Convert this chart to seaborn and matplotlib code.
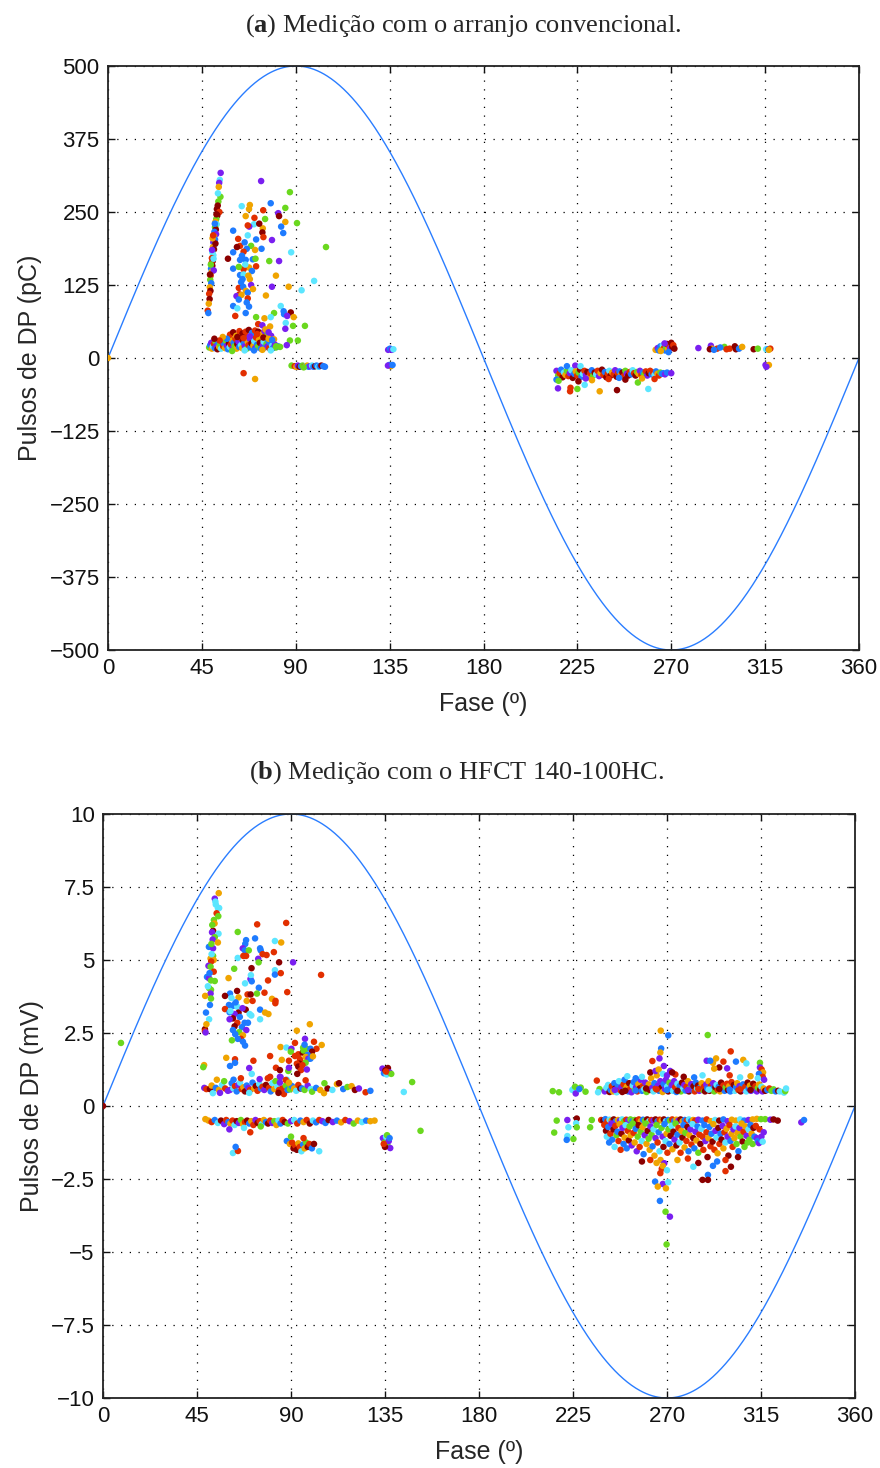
import numpy as np
import pandas as pd
import matplotlib
matplotlib.use('Agg')
import matplotlib.pyplot as plt
import seaborn as sns

# ---------------- colour codes: 0 roxo,1 azul,2 ciano,3 verde,4 laranja,5 vermelho,6 bordo
NOMES = ['roxo', 'azul', 'ciano', 'verde', 'laranja', 'vermelho', 'bordo']
CORES = ['#7a1ff0', '#1e7bff', '#5ce6ff', '#6ad81e', '#f0a400', '#e22f00', '#8b0000']

x_ticks = [0, 45, 90, 135, 180, 225, 270, 315, 360]
x_labels = ['0', '45', '90', '135', '180', '225', '270', '315', '360']
y_ticks_a = [-500, -375, -250, -125, 0, 125, 250, 375, 500]
y_labels_a = ['−500', '−375', '−250', '−125', '0', '125', '250', '375', '500']
y_ticks_b = [-10, -7.5, -5, -2.5, 0, 2.5, 5, 7.5, 10]
y_labels_b = ['−10', '−7.5', '−5', '−2.5', '0', '2.5', '5', '7.5', '10']

amp_a = 500.0   # pC, reference wave amplitude
amp_b = 10.0    # mV

# ---------------- panel (a): (fase, pC, cor)
a_origem = [(0.0, 0, 4)]
a_faixa = [
    (54.0,317,0),(53.6,305,2),(53.3,300,0),(53.1,293,4),(53.9,276,3),(52.9,268,3),(52.6,261,6),(52.2,255,6),
    (53.4,250,5),(52.4,244,6),(51.9,238,3),(51.5,233,4),(52.1,229,2),(51.3,224,3),(51.7,220,6),(51.0,216,1),
    (51.8,212,0),(50.8,208,4),(51.3,203,1),(50.5,198,0),(51.0,194,1),(50.3,190,4),(50.8,186,6),(50.0,181,2),
    (50.5,176,2),(49.8,171,5),(50.2,166,6),(49.6,162,5),(50.0,158,6),(49.4,153,1),(49.8,148,4),(49.2,141,5),
    (49.0,134,3),(49.5,128,1),(48.8,121,4),(49.1,115,6),(48.5,110,5),(48.7,101,6),(48.3,93,4),(47.8,81,5),
    (48.1,77,1),(50.7,150,0),(51.5,196,6),(52.7,282,2),(50.1,205,4),(52.0,246,6),(49.9,185,0),(51.2,230,1),
    (50.4,210,5),(49.3,160,3),(48.9,143,6),(50.6,170,2)]
a_central = [
    (64.1,260,2),(68.0,262,4),(67.6,255,4),(74.4,253,5),(78.0,265,1),(81.6,248,0),(82.0,243,6),(85.0,257,3),
    (90.6,231,3),(75.3,238,3),(66.0,243,4),(85.0,233,4),(70.0,229,2),(60.0,218,1),(67.7,225,0),(74.2,222,4),
    (74.0,215,6),(67.0,227,5),(67.0,210,2),(74.5,207,5),(71.0,203,1),(78.6,202,0),(84.0,214,1),(83.0,225,1),
    (62.4,204,5),(68.6,192,3),(66.5,187,1),(73.6,187,1),(63.3,192,5),(60.0,181,1),(70.5,185,4),(87.8,181,2),
    (104.5,190,3),(65.0,182,5),(57.5,170,6),(63.3,168,1),(66.0,168,1),(69.4,169,1),(67.6,155,4),(77.3,166,3),
    (82.0,166,0),(70.7,170,3),(71.0,157,5),(65.0,152,5),(60.0,153,1),(63.3,142,1),(65.0,143,2),(62.7,156,3),
    (69.0,149,1),(67.3,141,4),(80.5,141,4),(98.8,132,2),(68.0,135,4),(68.6,125,0),(62.7,120,5),(64.8,122,1),
    (66.1,115,4),(78.6,122,0),(86.6,122,4),(92.8,116,2),(63.0,109,5),(67.0,112,1),(61.6,106,0),(75.7,107,4),
    (64.0,108,4),(67.0,102,5),(60.0,89,1),(62.7,100,1),(67.6,88,1),(82.8,89,2),(84.2,80,1),(84.4,75,1),
    (87.6,78,6),(85.9,72,0),(89.0,70,4),(61.0,72,5),(66.0,77,1),(79.6,77,3),(71.0,70,3),(75.0,68,4),
    (78.0,70,2),(85.2,60,2),(88.7,55,3),(94.4,55,3),(85.0,50,0),(72.0,58,5),(74.0,56,0),(77.7,54,4),
    (75.5,49,4),(77.0,44,0),(78.7,31,1),(87.2,30,3),(91.0,30,3),(85.7,22,0),(80.6,20,3),(64.5,135,1),
    (65.8,160,2),(63.8,130,1),(66.5,95,1),(65.5,198,1),(70.2,240,5),(72.5,230,6),(61.8,190,6),(64.2,175,1),
    (69.5,118,4),(62.0,85,2),(73.4,303,0),(87.2,284,3)]
a_banda = [
    (48.5,18,3),(49.0,22,1),(49.5,26,0),(49.8,16,4),(50.3,20,2),(50.8,24,5),(51.2,17,1),(51.6,28,3),
    (52.0,21,0),(52.5,15,6),(52.9,25,1),(53.3,19,4),(53.8,23,3),(54.2,16,2),(54.8,27,0),(55.2,20,5),
    (55.7,24,1),(56.1,17,4),(56.6,29,3),(57.0,21,0),(57.5,15,1),(58.0,25,6),(58.4,19,2),(58.9,23,5),
    (59.3,31,4),(59.8,17,0),(60.2,26,1),(60.7,20,3),(61.1,33,5),(61.6,16,4),(62.0,24,6),(62.5,28,0),
    (62.9,19,1),(63.4,35,5),(63.8,22,2),(64.3,17,4),(64.7,30,6),(65.2,25,1),(65.6,20,0),(66.1,38,5),
    (66.5,16,3),(67.0,27,4),(67.4,22,5),(67.9,33,0),(68.3,18,1),(68.8,25,6),(69.2,40,5),(69.7,21,4),
    (70.1,29,2),(70.6,17,0),(71.0,35,5),(71.5,23,1),(71.9,19,3),(72.4,31,4),(72.8,26,6),(73.3,16,1),
    (73.7,42,5),(74.2,22,0),(74.6,28,2),(75.1,18,1),(75.5,36,4),(76.0,24,3),(76.4,20,0),(76.9,30,1),
    (77.3,17,5),(77.8,26,1),(78.2,38,0),(78.7,21,2),(79.1,17,1),(79.6,32,4),(80.0,23,0),(80.5,18,3),
    (81.5,20,1),(82.5,19,3),(58.5,40,5),(60.0,44,6),(61.5,38,4),(63.0,46,5),(64.5,42,6),(66.0,45,5),
    (67.5,48,6),(69.0,43,1),(70.5,47,5),(72.0,45,6),(73.5,40,4),(75.0,46,0),(76.5,44,3),(62.0,36,6),
    (65.0,34,5),(68.0,37,0),(71.5,41,5),(74.5,35,6),(77.0,33,4),(57.0,33,1),(55.0,36,4),(53.5,30,5),
    (51.0,33,6),(59.5,12,3),(65.5,13,2),(70.0,13,1),(74.0,14,4),(78.0,13,2)]
a_menos15 = [
    (88.0,-13,3),(89.5,-14,5),(90.3,-15,4),(91.0,-13,0),(91.8,-15,6),(92.5,-14,1),(93.3,-13,3),(94.0,-15,5),
    (94.8,-14,2),(95.5,-13,4),(96.2,-15,1),(97.0,-14,0),(97.8,-13,2),(98.5,-15,1),(99.3,-14,6),(100.0,-13,1),
    (100.8,-15,2),(101.5,-14,1),(102.3,-13,6),(103.2,-14,1),(104.0,-15,1),(93.8,-16,3),(65.0,-26,5),(70.5,-36,4)]
a_135 = [(134.3,14,0),(135.2,16,1),(136.0,14,0),(136.8,15,2),(134.8,-12,1),(135.6,-14,4),(134.2,-13,0),(136.4,-12,1)]
a_negativo = [
    (215.0,-22,0),(215.8,-30,3),(216.5,-26,5),(217.2,-20,1),(217.9,-33,6),(218.6,-25,2),(219.3,-29,4),(220.0,-22,3),
    (220.0,-14,1),(220.7,-31,5),(221.4,-26,0),(222.1,-21,2),(222.8,-34,6),(223.5,-27,1),(224.0,-13,0),(224.2,-23,4),
    (224.9,-30,5),(225.6,-25,3),(226.3,-20,6),(226.5,-14,2),(227.0,-32,1),(227.7,-27,2),(228.4,-22,5),(229.1,-29,0),
    (229.8,-24,6),(230.5,-33,4),(231.2,-26,5),(231.9,-21,1),(232.6,-30,3),(233.3,-25,6),(234.0,-28,2),(234.7,-22,5),
    (235.4,-31,0),(236.1,-26,4),(236.8,-20,6),(237.5,-29,5),(238.2,-24,1),(238.9,-33,6),(239.6,-27,5),(240.3,-22,2),
    (241.0,-30,6),(241.7,-25,4),(242.4,-28,5),(243.1,-21,0),(243.8,-32,6),(244.5,-26,5),(245.2,-23,1),(245.9,-29,4),
    (246.6,-25,6),(247.3,-31,5),(248.0,-22,3),(248.7,-27,0),(249.4,-30,6),(250.1,-24,5),(250.8,-28,1),(251.5,-21,2),
    (252.2,-26,5),(252.9,-30,6),(253.6,-24,3),(254.3,-27,4),(255.0,-22,0),(255.7,-29,5),(256.4,-25,1),(257.1,-28,3),
    (257.8,-23,5),(258.5,-30,0),(259.2,-26,6),(259.9,-22,5),(260.6,-28,1),(261.3,-25,5),(262.0,-29,2),(262.7,-23,1),
    (263.4,-27,4),(264.1,-30,5),(264.8,-25,3),(265.5,-27,1),(266.2,-26,1),(267.0,-28,0),(268.0,-25,1),(270.0,-26,0),
    (215.0,-37,1),(216.0,-39,3),(215.7,-52,0),(221.7,-51,5),(221.5,-57,5),(225.0,-53,3),(228.5,-46,2),(235.7,-57,4),
    (244.0,-55,6),(259.0,-53,2),(254.0,-42,3),(225.5,-40,6),(232.0,-38,4),(240.0,-36,5),(248.0,-37,6),(256.0,-35,4),
    (262.0,-36,5),(229.0,-35,0),(245.0,-34,1)]
a_positivo = [
    (262.5,14,4),(263.5,17,0),(264.0,13,1),(264.8,20,1),(265.5,15,3),(266.0,22,2),(266.5,17,5),(267.0,13,1),
    (267.5,19,3),(268.0,24,6),(268.5,15,4),(269.0,21,5),(269.5,17,0),(270.0,26,6),(270.5,19,6),(271.0,22,5),
    (271.5,16,6),(266.8,25,0),(265.0,12,4),(268.7,10,1)]
a_direita = [
    (283.0,17,0),(289.0,21,0),(289.5,16,4),(288.5,15,6),(292.0,16,5),(295.5,19,3),(296.5,15,5),(298.0,16,5),
    (300.5,20,6),(301.0,15,6),(302.5,16,1),(304.0,19,4),(309.5,15,6),(311.5,16,3),(315.5,15,2),(316.5,15,1),
    (317.5,16,5),(316.8,14,4),(293.5,18,1),(290.5,14,1),(315.2,-12,0),(316.8,-12,4),(315.6,-15,0)]

# ---------------- panel (b): (fase, mV, cor)
b_isolados = [(0.0,0.0,6),(8.6,2.16,3),(148.0,0.82,3),(144.0,0.48,2),(152.0,-0.85,3),(104.4,4.49,5)]
b_faixa = [
    (55.4,7.29,4),(53.5,7.1,0),(53.8,7.0,2),(55.0,6.78,2),(55.6,6.78,2),(54.4,6.6,5),(55.2,6.5,3),(53.1,6.37,3),
    (53.4,6.25,4),(52.7,6.0,6),(52.2,5.95,0),(55.3,5.9,2),(53.5,5.78,3),(52.5,5.7,0),(55.0,5.6,4),(50.7,5.45,1),
    (52.7,5.4,0),(52.7,5.14,3),(51.5,5.05,4),(53.0,5.0,4),(51.8,4.95,5),(50.5,4.8,0),(51.5,4.77,3),(53.0,4.6,5),
    (49.8,4.42,1),(50.8,4.37,0),(51.7,4.3,3),(53.5,4.28,3),(50.8,4.04,3),(51.7,3.98,3),(51.5,3.85,0),(48.9,3.77,4),
    (51.7,3.68,3),(51.2,3.46,1),(48.8,2.63,6),(48.8,2.56,5),(49.1,2.52,0),(48.4,1.4,4),(48.0,1.33,3),(52.0,5.2,2),
    (51.0,4.55,1),(50.2,4.1,2),(52.3,6.2,3),(54.0,6.9,2),(51.9,5.55,3)]
b_superior = [
    (73.8,6.22,5),(87.7,6.27,5),(64.5,5.96,3),(72.8,5.74,1),(68.5,5.68,1),(68.1,5.55,1),(82.3,5.65,2),(85.3,5.6,4),
    (66.9,5.4,0),(67.9,5.33,1),(69.8,5.33,3),(75.2,5.4,1),(75.5,5.33,1),(76.4,5.2,5),(78.3,5.17,5),(81.8,5.27,5),
    (64.5,5.07,2),(67.2,5.14,5),(68.5,5.14,5),(74.3,5.04,0),(74.5,4.92,3),(84.3,4.92,6),(91.0,4.92,0),(82.3,4.65,2),
    (82.3,4.5,1),(85.1,4.55,5),(62.8,4.7,3),(71.1,4.72,6),(60.1,4.38,4),(70.6,4.35,0),(70.8,4.48,2),(71.2,4.27,1),
    (79.0,4.3,5),(68.0,4.2,2),(74.6,4.05,1),(64.2,3.94,6),(69.2,3.82,5),(70.7,3.82,6),(60.8,3.85,1),(73.7,3.85,3),
    (77.3,3.88,5),(88.2,3.9,5),(58.4,3.77,6),(64.9,3.72,4),(62.6,3.45,1),(68.8,3.6,4),(80.9,3.67,4),(82.5,3.52,5),
    (68.3,3.3,6),(49.3,3.2,1),(50.8,2.97,2),(49.5,2.8,4),(60.3,3.46,1),(62.2,3.43,1),(64.3,3.4,2),(58.4,3.32,5),
    (60.6,3.21,1),(64.9,3.2,6),(63.0,3.15,0),(70.2,3.15,2),(71.0,3.1,2),(75.2,3.3,1),(77.6,3.2,4),(79.2,3.15,4),
    (71.6,3.6,5),(82.6,3.6,5),(62.2,3.0,6),(60.6,2.97,0),(75.2,2.97,2),(64.3,2.85,5),(67.8,2.85,1),(69.4,2.85,1),
    (63.0,2.73,6),(66.5,2.7,1),(62.2,2.6,1),(68.6,2.6,0),(65.2,2.53,3),(63.3,2.46,1),(67.0,2.42,4),(66.0,2.3,5),
    (64.5,2.3,1),(61.7,2.25,3),(67.0,2.2,1),(68.0,2.07,1),(63.5,3.55,1),(61.5,3.7,2),(65.5,3.05,1),(66.8,3.35,0),
    (61.0,3.25,2),(63.2,1.6,5),(63.2,1.48,1),(60.8,1.37,1),(59.0,1.65,4),(70.0,1.3,0),(72.0,1.55,5)]
b_meio = [
    (99.0,2.8,4),(92.8,2.58,4),(96.7,2.3,0),(91.9,2.16,5),(104.7,2.09,4),(85.0,2.02,4),(87.8,2.0,2),(90.2,1.96,0),
    (89.9,1.86,3),(95.8,2.0,3),(97.4,1.96,3),(102.2,1.96,5),(99.3,1.96,1),(100.1,1.86,6),(91.9,1.71,5),(93.5,1.77,5),
    (95.6,1.83,6),(96.0,1.9,3),(98.0,1.75,1),(94.3,1.6,5),(97.0,1.68,4),(94.8,1.5,5),(94.0,1.45,6),(98.3,1.62,0),
    (99.3,1.62,1),(92.8,1.45,5),(97.0,1.48,3),(93.5,1.35,6),(95.5,1.4,5),(94.8,1.23,5),(97.6,1.25,0),(93.0,1.1,6),
    (89.0,1.55,5),(85.6,1.58,4),(80.0,1.71,5),(82.8,1.31,5),(84.7,1.23,6),(88.7,1.2,3),(89.0,1.31,0),(87.5,0.89,5),
    (89.0,0.8,4),(84.7,1.0,0),(84.7,0.8,0),(101.0,2.2,5),(100.5,1.7,4),(96.5,2.1,1)]
b_pos_esq = [
    (48.5,0.62,0),(49.5,0.58,5),(51.2,0.58,6),(52.0,0.7,4),(52.6,0.44,2),(54.0,0.62,1),(55.5,0.55,4),(57.0,0.72,2),
    (58.5,0.6,5),(59.8,0.52,0),(60.8,0.55,0),(61.6,0.78,1),(62.4,0.6,2),(63.2,0.68,5),(64.0,0.5,1),(64.8,0.72,0),
    (65.6,0.8,2),(66.4,0.58,5),(67.2,0.64,4),(68.0,0.5,6),(68.8,0.7,1),(69.6,0.62,0),(70.4,0.55,5),(71.2,1.1,2),
    (71.6,0.8,1),(72.4,0.6,4),(73.2,0.68,6),(74.0,0.52,5),(74.8,0.75,2),(75.6,0.6,1),(76.4,0.66,5),(77.2,0.55,0),
    (78.0,0.72,6),(78.9,0.95,5),(79.5,0.62,5),(80.3,0.5,1),(81.1,0.78,2),(82.0,0.58,4),(82.6,0.85,3),(83.5,0.66,2),
    (84.3,0.55,5),(85.0,0.99,0),(85.8,0.6,5),(86.6,0.41,5),(87.5,0.7,3),(88.4,0.55,1),(89.5,0.57,3),(90.5,0.68,1),
    (91.5,0.6,4),(92.5,0.52,2),(93.5,0.72,5),(94.5,0.6,6),(95.3,0.6,1),(96.5,0.55,3),(98.0,0.7,0),(99.5,0.58,2),
    (100.1,0.49,3),(102.0,0.62,1),(104.0,0.55,4),(105.8,0.44,4),(107.5,0.6,6),(109.8,0.55,2),(112.0,0.75,4),(113.0,0.78,6),
    (115.0,0.58,1),(117.0,0.65,3),(119.0,0.68,4),(120.6,0.55,6),(122.5,0.6,0),(125.7,0.47,5),(128.0,0.52,1),(62.5,0.9,1),
    (66.0,0.95,5),(75.0,0.92,0),(80.0,1.0,5),(88.0,0.9,2),(58.0,0.85,3),(54.5,0.9,4),(56.0,0.45,0),(70.0,0.45,2),
    (84.0,0.45,6),(97.0,0.88,5),(106.0,0.78,3)]
b_neg_esq = [
    (49.0,-0.45,4),(50.5,-0.5,4),(52.0,-0.55,5),(53.5,-0.48,1),(55.0,-0.58,2),(56.5,-0.5,6),(58.0,-0.62,0),(59.0,-0.48,5),
    (60.0,-0.55,1),(61.0,-0.6,4),(62.0,-0.5,5),(63.0,-0.65,2),(64.0,-0.52,6),(65.0,-0.58,0),(66.0,-0.48,3),(67.0,-0.62,4),
    (68.0,-0.55,5),(69.0,-0.5,6),(70.0,-0.6,1),(71.0,-0.52,4),(72.0,-0.65,5),(73.0,-0.48,0),(74.0,-0.58,6),(75.0,-0.52,5),
    (76.0,-0.62,2),(77.0,-0.48,4),(78.0,-0.55,1),(79.0,-0.6,6),(80.0,-0.5,5),(81.0,-0.58,0),(82.0,-0.52,3),(83.0,-0.65,4),
    (84.0,-0.5,2),(85.0,-0.6,1),(86.0,-0.48,5),(87.0,-0.55,6),(88.5,-0.6,3),(90.0,-0.52,0),(91.5,-0.48,2),(93.0,-0.6,5),
    (94.5,-0.5,1),(96.0,-0.55,4),(97.5,-0.48,5),(99.0,-0.6,6),(100.5,-0.5,2),(102.0,-0.56,1),(103.5,-0.48,5),(105.0,-0.52,0),
    (106.5,-0.58,1),(108.0,-0.48,6),(110.0,-0.55,0),(112.0,-0.5,1),(114.0,-0.56,4),(116.0,-0.48,5),(118.0,-0.52,0),(120.0,-0.6,3),
    (122.0,-0.5,4),(124.0,-0.55,2),(126.0,-0.5,1),(128.0,-0.52,4),(130.0,-0.5,4),
    (62.2,-1.61,2),(64.6,-1.54,5),(63.5,-1.4,1),(60.5,-0.8,0),(67.5,-0.75,2),(70.5,-0.9,5),(75.5,-0.7,3),
    (88.0,-1.2,1),(89.5,-1.3,4),(90.5,-1.25,5),(91.2,-1.45,6),(92.0,-1.35,5),(92.8,-1.5,6),(93.5,-1.28,4),(94.2,-1.4,5),
    (95.0,-1.55,2),(95.8,-1.32,1),(96.5,-1.45,4),(97.2,-1.25,3),(98.0,-1.4,6),(98.8,-1.3,5),(100.0,-1.45,1),(101.0,-1.3,6),
    (103.5,-1.55,2),(90.0,-1.05,3),(96.0,-1.1,5)]
b_135 = [
    (133.8,1.28,0),(134.5,1.12,1),(135.2,1.22,6),(135.8,1.08,2),(136.4,1.3,6),(137.2,1.15,0),(138.0,1.1,3),(135.5,1.18,5),
    (134.0,-1.1,0),(134.8,-1.25,3),(135.5,-1.05,2),(136.2,-1.35,3),(136.8,-1.2,0),(137.5,-1.44,0),(135.0,-1.4,6),(136.0,-1.0,3),
    (137.2,-1.1,1),(134.4,-1.3,5)]
b_pos_dir = [
    (215.3,0.51,3),(218.3,0.47,3),(224.7,0.55,2),(225.5,0.6,2),(226.3,0.43,0),(226.0,0.66,3),(228.7,0.63,3),(228.0,0.58,1),
    (231.0,0.49,3),(236.4,0.87,5),(237.7,0.58,3),(237.0,0.47,2),(240.2,0.5,0),(241.0,0.62,2),(241.8,0.72,2),(242.5,0.48,6),
    (243.0,0.55,1),(243.6,0.68,5),(244.2,0.5,4),(244.8,0.78,1),(245.3,0.6,6),(245.9,0.47,2),(246.4,0.7,1),(247.0,0.85,2),
    (247.5,0.55,5),(248.1,0.63,0),(248.6,0.48,6),(249.2,0.74,5),(249.7,0.9,1),(250.3,0.58,3),(250.8,0.66,4),(251.4,0.5,1),
    (251.9,0.78,6),(252.5,0.6,5),(253.0,0.47,0),(253.6,0.7,2),(254.1,0.82,1),(254.7,0.55,3),(255.2,0.64,0),(255.8,0.5,5),
    (256.3,0.75,4),(256.9,0.6,6),(257.4,0.9,0),(258.0,0.52,1),(258.5,0.68,5),(259.1,0.58,2),(259.6,0.8,0),(260.2,0.48,3),
    (260.7,0.66,1),(261.3,0.74,4),(261.8,0.55,6),(262.4,0.95,4),(262.9,0.62,0),(263.5,0.5,2),(264.0,0.78,1),(264.6,0.6,5),
    (265.1,1.05,4),(265.7,0.7,0),(266.2,0.52,1),(266.8,0.85,0),(267.3,0.62,6),(267.9,0.48,4),(268.4,0.75,1),(269.0,0.58,0),
    (269.5,0.9,0),(270.1,0.66,2),(270.6,0.5,6),(271.2,0.8,3),(271.7,0.6,1),(272.3,0.72,0),(272.8,0.52,2),(273.4,0.85,0),
    (273.9,0.64,5),(274.5,0.48,1),(275.0,0.76,2),(275.6,0.58,4),(276.1,0.68,1),(276.7,0.5,3),(277.2,0.8,6),(277.8,0.6,2),
    (278.3,0.72,0),(278.9,0.53,1),(279.4,0.66,5),(280.0,0.85,4),(280.5,0.5,6),(281.1,0.62,3),(281.6,0.75,0),(282.2,0.55,1),
    (282.7,0.68,6),(283.3,0.5,5),(283.8,0.8,1),(284.4,0.6,2),(284.9,0.7,6),(285.5,0.52,0),(286.0,0.64,1),(286.6,0.78,4),
    (287.1,0.55,3),(287.7,0.66,5),(288.2,0.5,6),(288.8,0.74,0),(289.3,0.6,1),(289.9,0.85,4),(290.4,0.52,6),(291.0,0.68,5),
    (291.5,0.58,1),(292.1,0.78,0),(292.6,0.5,3),(293.2,0.64,6),(293.7,0.72,2),(294.3,0.55,5),(294.8,0.66,1),(295.4,0.5,4),
    (295.9,0.8,6),(296.5,0.6,0),(297.0,0.7,5),(297.6,0.52,1),(298.1,0.64,3),(298.7,0.76,5),(299.2,0.55,6),(299.8,0.68,4),
    (300.3,0.5,1),(300.9,0.82,5),(301.4,0.6,0),(302.0,0.72,6),(302.5,0.52,2),(303.1,0.65,1),(303.6,0.78,4),(304.2,0.55,5),
    (304.7,0.68,0),(305.3,0.5,6),(305.8,0.62,3),(306.4,0.74,1),(306.9,0.56,0),(307.5,0.66,5),(308.0,0.5,2),(308.6,0.8,6),
    (309.1,0.6,1),(309.7,0.7,4),(310.2,0.52,0),(310.8,0.64,3),(311.3,0.76,6),(311.9,0.55,1),(312.4,0.68,5),(313.0,0.5,0),
    (313.5,0.62,3),(314.1,0.74,4),(314.6,0.56,6),(315.2,0.66,2),(315.7,0.5,0),(316.3,0.6,4),(317.0,0.52,6),(318.0,0.55,1),
    (319.0,0.6,5),(320.0,0.52,3),(321.0,0.57,3),(322.0,0.5,1),(323.2,0.52,6),(324.0,0.5,2),(326.0,0.46,2),(326.6,0.51,3),
    (327.0,0.6,2),(245.0,0.55,0),(250.0,0.52,6),(255.0,0.53,1),(260.0,0.6,6),(265.0,0.57,5),(270.0,0.55,1),(275.0,0.52,6),
    (280.0,0.55,0),(285.0,0.58,5),(290.0,0.56,2),(295.0,0.58,6),(300.0,0.56,1),(305.0,0.57,5),(310.0,0.55,6)]
b_picos = [
    (267.0,2.58,4),(270.6,2.42,1),(267.2,1.97,1),(266.8,1.83,4),(266.4,1.63,0),(263.0,1.54,5),(268.5,1.37,0),(289.5,2.43,3),
    (300.5,1.87,5),(306.5,1.58,4),(303.0,1.52,1),(308.0,1.46,2),(289.0,1.55,0),(292.0,1.48,4),(293.5,1.63,4),(297.0,1.52,5),
    (295.0,1.32,6),(292.6,1.28,4),(290.7,1.55,1),(298.8,1.29,0),(314.5,1.48,3),(314.5,1.32,0),(315.3,1.25,5),(316.0,1.15,4),
    (314.0,1.1,1),(315.8,1.0,5),(313.5,0.95,2),(316.5,0.9,0),(262.0,1.15,6),(264.5,1.2,0),(266.0,1.25,4),(268.0,1.1,2),
    (270.0,1.05,0),(258.0,1.0,2),(255.0,0.95,1),(251.0,1.02,2),(274.0,1.08,5),(278.0,1.0,6),(283.0,0.98,1),(287.0,1.05,2),
    (271.5,1.2,0),(272.5,1.15,6),(310.0,1.02,4),(305.0,0.98,2),(300.0,1.05,5)]
b_neg_dir = [
    (217.2,-0.5,3),(222.3,-0.48,0),(226.8,-0.43,6),(226.5,-0.59,2),(222.8,-0.73,2),(226.8,-0.73,3),(216.0,-0.91,3),(222.3,-1.03,2),
    (222.0,-1.16,1),(225.2,-1.13,3),(233.2,-0.73,3),(234.0,-0.48,3),
    (238.5,-0.48,5),(239.5,-0.5,6),(240.5,-0.45,1),(241.5,-0.52,5),(242.5,-0.47,2),(243.5,-0.5,4),(244.5,-0.46,6),(245.5,-0.52,1),
    (246.5,-0.48,4),(247.5,-0.5,0),(248.5,-0.46,2),(249.5,-0.52,3),(250.5,-0.47,5),(251.5,-0.5,0),(252.5,-0.46,3),(253.5,-0.52,1),
    (254.5,-0.48,3),(255.5,-0.5,6),(256.5,-0.46,5),(257.5,-0.52,4),(258.5,-0.47,1),(259.5,-0.5,3),(260.5,-0.46,6),(261.5,-0.52,2),
    (262.5,-0.48,5),(263.5,-0.5,0),(264.5,-0.46,6),(265.5,-0.52,1),(266.5,-0.47,5),(267.5,-0.5,4),(268.5,-0.46,6),(269.5,-0.52,2),
    (270.5,-0.48,1),(271.5,-0.5,3),(272.5,-0.46,5),(273.5,-0.52,1),(274.5,-0.47,4),(275.5,-0.5,0),(276.5,-0.46,6),(277.5,-0.52,4),
    (278.5,-0.48,1),(279.5,-0.5,5),(280.5,-0.46,2),(281.5,-0.52,1),(282.5,-0.48,4),(283.5,-0.5,5),(285.0,-0.47,0),(287.0,-0.5,1),
    (289.0,-0.46,5),(291.0,-0.52,4),(293.0,-0.48,2),(295.0,-0.5,6),(297.0,-0.46,1),(299.0,-0.52,0),(301.0,-0.47,4),(303.0,-0.5,4),
    (305.0,-0.46,2),(307.0,-0.5,1),(309.0,-0.48,0),(311.0,-0.46,4),(313.0,-0.44,4),(315.0,-0.45,3),(317.0,-0.45,3),(319.5,-0.47,0),
    (321.0,-0.46,6),(323.0,-0.5,6),(334.3,-0.56,0),(335.6,-0.48,1),
    (240.0,-0.65,5),(240.8,-0.85,6),(241.2,-1.05,2),(241.9,-0.72,1),(242.3,-1.25,1),(242.9,-0.95,5),(243.4,-0.6,0),(243.8,-1.15,1),
    (244.4,-0.8,6),(244.9,-1.4,2),(245.3,-0.68,5),(245.8,-1.0,3),(246.3,-0.88,1),(246.8,-1.2,5),(247.3,-0.62,4),(247.8,-1.5,5),
    (248.2,-0.95,6),(248.7,-0.75,0),(249.2,-1.3,1),(249.7,-1.08,4),(250.2,-0.66,2),(250.7,-1.45,1),(251.2,-0.85,5),(251.7,-1.18,6),
    (252.1,-0.7,3),(252.6,-1.0,4),(253.1,-1.35,0),(253.6,-0.6,3),(254.0,-0.92,5),(254.5,-1.25,4),(255.0,-0.78,1),(255.5,-1.55,0),
    (256.0,-1.05,3),(256.4,-0.66,6),(256.9,-1.4,5),(257.4,-0.88,3),(257.9,-1.2,2),(258.3,-0.72,4),(258.8,-1.65,1),(259.3,-1.0,0),
    (259.8,-0.6,3),(260.2,-1.3,4),(260.7,-0.85,6),(261.2,-1.12,3),(261.7,-1.5,4),(262.1,-0.7,0),(262.6,-0.98,3),(263.1,-1.38,1),
    (263.6,-0.8,2),(264.0,-1.7,4),(264.5,-1.1,0),(265.0,-0.65,3),(265.5,-1.25,5),(266.0,-0.9,1),(266.4,-1.55,2),(266.9,-1.85,4),
    (267.4,-0.75,3),(267.9,-1.05,0),(268.3,-1.4,6),(268.8,-0.62,1),(269.3,-1.2,2),(269.8,-0.95,4),(270.2,-1.6,5),(270.7,-0.8,3),
    (271.2,-1.3,1),(271.7,-1.02,6),(272.2,-0.68,2),(272.6,-1.48,4),(273.1,-0.88,6),(273.6,-1.15,0),(274.1,-0.6,3),(274.5,-1.35,6),
    (275.0,-0.98,1),(275.5,-0.75,5),(276.0,-1.25,2),(276.5,-1.6,5),(276.9,-0.85,4),(277.4,-1.08,6),(277.9,-0.65,1),(278.4,-1.42,4),
    (278.8,-0.92,3),(279.3,-1.2,5),(279.8,-0.72,6),(280.3,-1.55,1),(280.7,-1.0,4),(281.2,-0.8,0),(281.7,-1.32,5),(282.2,-0.62,2),
    (282.6,-1.1,6),(283.1,-1.45,1),(283.6,-0.88,0),(284.1,-1.18,4),(284.6,-0.7,1),(285.0,-1.6,3),(285.5,-0.98,5),(286.0,-1.3,6),
    (286.5,-0.78,2),(287.0,-1.05,5),(287.4,-1.5,5),(287.9,-0.65,1),(288.4,-1.2,0),(288.9,-0.9,5),(289.4,-1.75,6),(289.8,-1.1,4),
    (290.3,-0.72,1),(290.8,-1.38,5),(291.3,-0.95,1),(291.8,-1.22,6),(292.2,-0.62,4),(292.7,-1.5,5),(293.2,-0.85,0),(293.7,-1.08,2),
    (294.2,-1.62,4),(294.6,-0.75,6),(295.1,-1.3,5),(295.6,-0.95,1),(296.1,-1.15,6),(296.6,-0.68,0),(297.0,-1.45,4),(297.5,-0.9,5),
    (298.0,-1.25,2),(298.5,-0.78,4),(299.0,-1.05,0),(299.4,-1.7,6),(299.9,-0.65,5),(300.4,-1.2,1),(300.9,-0.95,4),(301.4,-1.4,5),
    (301.8,-0.8,0),(302.3,-1.1,4),(302.8,-0.7,2),(303.3,-1.3,3),(303.8,-0.92,4),(304.2,-1.55,1),(304.7,-0.75,0),(305.2,-1.05,3),
    (305.7,-0.6,4),(306.2,-1.22,6),(306.6,-0.88,5),(307.1,-1.4,3),(307.6,-0.7,4),(308.1,-1.02,0),(308.6,-1.25,3),(309.0,-0.8,2),
    (309.5,-1.15,3),(310.0,-0.65,1),(310.5,-0.95,4),(311.0,-1.3,3),(311.4,-0.75,6),(311.9,-1.05,1),(312.5,-0.68,5),(313.0,-1.1,0),
    (313.5,-1.2,1),(314.0,-1.27,0),(314.3,-0.8,5),(314.8,-1.15,1),(315.2,-1.05,0),(315.8,-1.22,2),(316.3,-0.9,0),
    (268.7,-1.96,0),(264.3,-2.59,1),(268.0,-2.67,0),(270.6,-2.61,2),(269.5,-2.82,4),(265.6,-2.76,4),(266.8,-2.3,5),(267.5,-2.15,5),
    (266.6,-3.25,1),(269.3,-3.62,3),(271.4,-3.79,0),(269.8,-4.74,3),(289.6,-2.36,1),(289.6,-2.53,6),(268.0,-2.05,4),(270.0,-2.2,2),
    (265.0,-1.95,4),(262.0,-1.85,5),(258.0,-1.9,6),(275.0,-1.85,4),(280.0,-1.8,5),(285.0,-1.95,6),(294.0,-1.9,1),(298.0,-1.85,5),
    (304.0,-1.75,6),(292.0,-2.05,1),(300.6,-2.08,6),(298.0,-2.23,5),(282.6,-2.08,2),(287.0,-2.53,6)]

# ---------------- style
sns.set_style('ticks')
plt.rcParams['font.family'] = ['Liberation Sans', 'DejaVu Sans']
plt.rcParams['mathtext.fontset'] = 'custom'
plt.rcParams['mathtext.rm'] = 'Liberation Serif'
plt.rcParams['mathtext.bf'] = 'Liberation Serif:bold'
plt.rcParams['axes.unicode_minus'] = True

paleta = dict(zip(NOMES, CORES))

fig = plt.figure(figsize=(8.8, 14.68), dpi=100)
W, H = 880.0, 1468.0
ax_a = fig.add_axes([108 / W, 1 - 650 / H, (859 - 108) / W, (650 - 66) / H])
ax_b = fig.add_axes([103 / W, 1 - 1398 / H, (855 - 103) / W, (1398 - 814) / H])


def desenha(ax, grupos, amp, yt, yl, ylabel):
    rows = [p for g in grupos for p in g]
    df = pd.DataFrame(rows, columns=['fase', 'valor', 'cor'])
    df['cor'] = df['cor'].map(lambda i: NOMES[i])
    fase_ref = np.linspace(0, 360, 721)
    onda = pd.DataFrame({'fase': fase_ref, 'valor': amp * np.sin(np.radians(fase_ref))})
    sns.lineplot(data=onda, x='fase', y='valor', ax=ax, color='#2a7dff', linewidth=1.0,
                 sort=False, estimator=None, zorder=2)
    sns.scatterplot(data=df, x='fase', y='valor', hue='cor', hue_order=NOMES, palette=paleta,
                    s=22, linewidth=0, legend=False, ax=ax, zorder=3)
    ax.set_xlim(0, 360)
    ax.set_ylim(yt[0], yt[-1])
    ax.set_xticks(x_ticks)
    ax.set_xticklabels(x_labels)
    ax.set_yticks(yt)
    ax.set_yticklabels(yl)
    ax.grid(True, linestyle=(0, (1, 6)), color='black', linewidth=0.9)
    ax.tick_params(direction='in', top=True, right=True, length=5, width=1.0,
                   labelsize=16, pad=6, colors='#111111')
    for sp in ax.spines.values():
        sp.set_linewidth(1.3)
        sp.set_color('#222222')
    ax.set_xlabel('Fase (º)', fontsize=18, labelpad=9)
    ax.set_ylabel(ylabel, fontsize=18, labelpad=5)


desenha(ax_a, [a_banda, a_faixa, a_central, a_menos15, a_135, a_negativo, a_positivo, a_direita, a_origem],
        amp_a, y_ticks_a, y_labels_a, 'Pulsos de DP (pC)')
desenha(ax_b, [b_pos_esq, b_neg_esq, b_faixa, b_superior, b_meio, b_135, b_pos_dir, b_picos, b_neg_dir, b_isolados],
        amp_b, y_ticks_b, y_labels_b, 'Pulsos de DP (mV)')

fig.text(463 / W, 1 - 26 / H, r'($\mathbf{a}$) Medição com o arranjo convencional.',
         ha='center', va='center', fontsize=19, family='Liberation Serif')
fig.text(456 / W, 1 - 773 / H, r'($\mathbf{b}$) Medição com o HFCT 140-100HC.',
         ha='center', va='center', fontsize=19, family='Liberation Serif')

fig.savefig('out.png', dpi=100)
